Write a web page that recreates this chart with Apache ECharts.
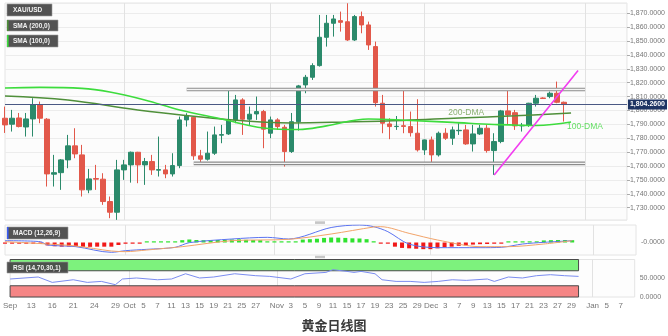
<!DOCTYPE html>
<html><head><meta charset="utf-8">
<script src="https://cdn.jsdelivr.net/npm/echarts@6/dist/echarts.min.js"></script>
<style>html,body{margin:0;padding:0;background:#fff}#c{width:668px;height:336px}</style>
</head><body><div id="c"></div>
<script>
// ---- trading-day categories (weekdays from 2021-09-08) ----
const categories = (function(){const out=[];const d=new Date(Date.UTC(2021,8,8));while(out.length<90){const wd=d.getUTCDay();if(wd!==0&&wd!==6)out.push(d.toISOString().slice(0,10));d.setUTCDate(d.getUTCDate()+1);}return out;})();

// ---- daily candles ----
const opens  = [1794.4,1790.1,1794.6,1788.1,1793.9,1804.0,1793.7,1754.1,1755.2,1764.4,1774.5,1768.0,1742.8,1751.0,1750.5,1734.4,1726.7,1757.2,1760.8,1769.9,1760.8,1763.2,1757.0,1757.2,1754.3,1760.3,1793.2,1795.1,1767.3,1764.9,1769.2,1782.2,1783.1,1793.2,1807.6,1793.7,1797.5,1799.2,1783.6,1793.2,1787.9,1770.4,1791.9,1818.4,1823.9,1832.3,1852.7,1862.8,1864.7,1863.9,1850.8,1867.6,1861.6,1846.0,1805.2,1790.3,1788.4,1789.0,1788.4,1783.6,1771.6,1778.8,1768.0,1783.6,1780.0,1785.4,1786.0,1775.9,1783.1,1787.2,1771.1,1777.6,1799.7,1798.4,1788.9,1789.3,1805.2,1809.0,1810.0,1812.4,1805.9];
const highs  = [1802.8,1800.4,1798.2,1798.2,1808.8,1806.4,1794.5,1768.0,1765.0,1782.4,1787.2,1775.2,1757.9,1760.8,1754.8,1738.0,1764.4,1764.4,1770.4,1770.2,1765.8,1768.0,1781.2,1760.8,1769.2,1795.6,1798.0,1795.6,1771.6,1784.8,1788.4,1789.6,1814.8,1811.2,1808.8,1802.8,1810.0,1800.4,1795.6,1794.4,1789.6,1798.2,1818.4,1825.6,1834.0,1868.8,1868.8,1868.8,1871.2,1877.2,1868.8,1871.2,1864.0,1849.6,1811.2,1794.4,1796.0,1815.0,1799.2,1808.1,1779.0,1781.2,1784.8,1787.2,1788.4,1790.8,1789.6,1789.6,1789.6,1789.6,1783.6,1800.4,1814.8,1800.4,1791.0,1805.5,1811.2,1809.5,1813.6,1820.8,1806.4];
const lows   = [1783.8,1784.8,1787.8,1781.2,1781.2,1790.8,1745.2,1745.2,1742.8,1758.4,1765.6,1738.0,1740.4,1742.8,1732.0,1722.4,1721.2,1750.0,1748.0,1747.6,1746.4,1753.6,1752.4,1751.2,1752.4,1758.4,1788.4,1764.4,1762.0,1763.9,1768.0,1776.4,1782.4,1790.8,1782.4,1789.6,1793.2,1772.8,1780.0,1786.0,1759.6,1769.4,1785.5,1812.4,1822.0,1831.6,1846.0,1853.2,1856.8,1850.1,1850.1,1855.6,1843.6,1802.8,1783.6,1779.3,1786.0,1783.6,1781.2,1770.4,1768.0,1760.8,1766.8,1778.8,1775.2,1782.4,1775.2,1770.4,1782.4,1769.6,1753.6,1776.4,1789.6,1786.0,1784.8,1788.2,1802.8,1808.3,1808.8,1805.2,1792.0];
const closes = [1789.6,1794.4,1788.4,1793.9,1804.0,1794.4,1754.3,1755.2,1764.4,1774.5,1768.7,1742.8,1750.7,1750.5,1734.4,1726.7,1757.2,1760.8,1769.9,1760.8,1763.2,1757.2,1757.4,1754.3,1760.3,1793.2,1796.3,1767.3,1764.9,1769.2,1782.4,1782.6,1793.2,1807.6,1793.7,1797.3,1799.2,1786.5,1793.2,1788.4,1770.4,1791.9,1817.7,1823.9,1832.3,1852.7,1862.8,1865.9,1863.5,1850.8,1867.6,1861.6,1847.2,1805.6,1790.8,1788.4,1788.6,1788.5,1784.0,1771.6,1778.8,1768.0,1783.6,1780.0,1786.0,1785.7,1775.9,1783.1,1787.2,1771.1,1777.6,1799.7,1796.8,1788.9,1789.3,1805.2,1808.8,1808.6,1812.4,1805.9,1804.26];
const lastPrice = 1804.26;

const sma200 = [['2021-09-08',1810.5],['2021-09-21',1807.6],['2021-10-05',1800.4],['2021-10-21',1793.9],['2021-11-04',1791.0],['2021-11-16',1791.7],['2021-11-26',1792.8],['2021-12-08',1794.6],['2021-12-20',1796.1],['2021-12-30',1798.2]];
const sma100 = [['2021-09-08',1816.2],['2021-09-15',1816.6],['2021-09-23',1815.9],['2021-09-29',1813.3],['2021-10-06',1807.6],['2021-10-13',1800.4],['2021-10-21',1793.9],['2021-10-29',1787.4],['2021-11-05',1786.3],['2021-11-11',1788.9],['2021-11-19',1793.9],['2021-11-29',1792.8],['2021-12-07',1791.4],['2021-12-15',1789.9],['2021-12-23',1789.2],['2021-12-30',1791.7]];

// ---- drawn levels / trend line ----
const resistance = {from:'2021-10-14', to:'2022-01-03', level:1815.1};
const support    = {from:'2021-10-15', to:'2022-01-03', level:1761.9};
const trendLine  = [['2021-12-15',1753.6],['2021-12-31',1828.7]];

// ---- MACD (12,26,9) ----
const macdHist = [-0.6,-0.8,-1.0,-1.0,-0.8,-1.0,-3.5,-4.5,-5.0,-4.8,-4.6,-5.2,-5.2,-5.0,-5.0,-5.0,-3.0,-1.5,-0.6,-0.4,0.4,0.5,0.6,0.6,0.8,2.8,3.6,3.0,2.8,2.8,3.0,3.2,3.6,3.8,3.2,3.0,2.8,1.2,0.8,0.6,0.5,0.8,3.5,4.0,4.5,5.5,6.0,5.8,5.5,5.0,4.8,4.0,1.5,-0.8,-1.2,-5.0,-6.5,-7.0,-7.5,-8.0,-8.0,-7.0,-5.5,-5.0,-4.0,-3.5,-2.5,-2.0,-1.8,-1.5,-1.0,0.8,0.8,0.6,0.6,0.8,2.5,2.8,3.0,3.0,2.8];
const macdLine = [['2021-09-08',2.2],['2021-09-15',1.0],['2021-09-16',-3.0],['2021-09-22',-5.0],['2021-09-29',-11.8],['2021-10-01',-9.8],['2021-10-06',-8.2],['2021-10-12',-5.8],['2021-10-14',-0.2],['2021-10-22',4.2],['2021-10-29',6.2],['2021-11-03',4.2],['2021-11-11',18],['2021-11-17',21],['2021-11-19',19],['2021-11-23',13],['2021-11-26',-2],['2021-12-02',-6.2],['2021-12-10',-6.2],['2021-12-15',-5.8],['2021-12-20',-1.8],['2021-12-23',0.2],['2021-12-29',2.2]];
const signalLine = [['2021-09-08',1.0],['2021-09-16',-1.8],['2021-09-22',-4.2],['2021-09-29',-10.2],['2021-10-01',-11],['2021-10-06',-9],['2021-10-13',-5],['2021-10-22',2.2],['2021-11-03',3.8],['2021-11-11',10.2],['2021-11-19',18.6],['2021-11-22',19],['2021-11-26',11],['2021-12-02',3],['2021-12-10',-5],['2021-12-16',-5],['2021-12-23',-1.8],['2021-12-29',2.2]];

// ---- RSI (14) ----
const rsi = [['2021-09-08',48],['2021-09-14',53.3],['2021-09-16',39],['2021-09-21',46],['2021-09-23',39],['2021-09-27',41.6],['2021-09-29',32.8],['2021-09-30',48],['2021-10-04',50.7],['2021-10-07',46],['2021-10-11',48],['2021-10-13',62],['2021-10-15',50.7],['2021-10-19',53.3],['2021-10-22',62],['2021-10-27',56.8],['2021-10-29',55],['2021-11-03',48],['2021-11-05',62],['2021-11-10',65.6],['2021-11-11',72.8],['2021-11-15',68.3],['2021-11-16',65.6],['2021-11-17',68.3],['2021-11-19',62],['2021-11-22',46],['2021-11-24',41.6],['2021-11-26',41.6],['2021-11-30',39],['2021-12-02',41.6],['2021-12-06',46],['2021-12-08',44.3],['2021-12-13',48],['2021-12-14',41.6],['2021-12-16',53.3],['2021-12-20',50.7],['2021-12-22',56.8],['2021-12-24',59.5],['2021-12-28',56.8],['2021-12-30',55]];
const rsiBands = {upper:[70,100], lower:[0,30], end:'2021-12-30'};

// ---- x tick labels ----
const xTicks = [['2021-09-08','Sep'],['2021-09-13','13'],['2021-09-16','16'],['2021-09-21','21'],['2021-09-24','24'],['2021-09-29','29'],['2021-10-01','Oct'],['2021-10-05','5'],['2021-10-07','7'],['2021-10-11','11'],['2021-10-13','13'],['2021-10-15','15'],['2021-10-19','19'],['2021-10-21','21'],['2021-10-25','25'],['2021-10-27','27'],['2021-11-01','Nov'],['2021-11-03','3'],['2021-11-05','5'],['2021-11-09','9'],['2021-11-11','11'],['2021-11-15','15'],['2021-11-17','17'],['2021-11-19','19'],['2021-11-23','23'],['2021-11-25','25'],['2021-11-29','29'],['2021-12-01','Dec'],['2021-12-03','3'],['2021-12-07','7'],['2021-12-09','9'],['2021-12-13','13'],['2021-12-15','15'],['2021-12-17','17'],['2021-12-21','21'],['2021-12-23','23'],['2021-12-27','27'],['2021-12-29','29'],['2022-01-03','Jan'],['2022-01-05','5'],['2022-01-07','7']];
const monthStarts = ['2021-10-01','2021-11-01','2021-12-01','2022-01-03'];

// ---------------------------------------------------------------
const tickMap = {}; xTicks.forEach(t => tickMap[t[0]] = t[1]);
const fmt4 = v => Number(v).toLocaleString('en-US',{minimumFractionDigits:4,maximumFractionDigits:4});
const FONT = '"Liberation Sans", Arial, sans-serif';
const monthIdx = monthStarts.map(d => categories.indexOf(d));
const C_UP = '#2b8a6b', C_DN = '#e2584a';

function xAxisFor(g, labels){
  return {type:'category', gridIndex:g, data:categories, boundaryGap:false,
    axisLine:{show:false}, axisTick:{show:false},
    axisLabel: labels ? {show:true, interval:(i,v)=>tickMap[v]!==undefined, formatter:v=>tickMap[v]||'', color:'#777', fontSize:8, fontFamily:FONT, margin:5} : {show:false},
    splitLine:{show:true, interval:(i)=>monthIdx.indexOf(i)>=0, lineStyle:{color:'#e2e2e2', width:1}}};
}
function tag(x,y,w,h,text,accent){
  const ch = [{type:'rect', z:100, shape:{x:x,y:y,width:w,height:h}, style:{fill:'rgba(72,72,72,0.94)', stroke:'#9a9a9a', lineWidth:0.6}, silent:true}];
  if(accent) ch.push({type:'rect', z:101, shape:{x:x,y:y,width:1.6,height:h}, style:{fill:accent}, silent:true});
  ch.push({type:'text', z:102, x:x+6, y:y+h/2+0.5, style:{text:text, fill:'#f2f2f2', font:'bold 6.5px '+FONT, verticalAlign:'middle', align:'left'}, silent:true});
  return ch;
}

const chart = echarts.init(document.getElementById('c'), null, {renderer:'canvas'});
chart.setOption({
  animation:false,
  backgroundColor:'#ffffff',
  title:{text:'黄金日线图', left:'center', top:314, textStyle:{fontSize:13, fontWeight:'bold', color:'#3a3a3a', fontFamily:'"Noto Sans CJK SC", sans-serif'}},
  grid:[
    {left:5, right:32, top:3, height:217, show:true, backgroundColor:'#fcfcfc', borderColor:'#e4e4e4', borderWidth:1},
    {left:5, right:32, top:225, height:30, show:true, backgroundColor:'#fdfdfd', borderColor:'#e4e4e4', borderWidth:1},
    {left:5, right:32, top:259.5, height:37.5, show:true, backgroundColor:'#fdfdfd', borderColor:'#e4e4e4', borderWidth:1}
  ],
  xAxis:[xAxisFor(0,false), xAxisFor(1,false), xAxisFor(2,true)],
  yAxis:[
    {type:'value', gridIndex:0, position:'right', min:1721.1, max:1877.4, splitNumber:16,
      axisLine:{show:false}, axisTick:{show:true, length:3, lineStyle:{color:'#aaa'}},
      axisLabel:{showMinLabel:false, showMaxLabel:false, formatter:fmt4, color:'#777', fontSize:7, fontFamily:FONT, margin:3},
      splitLine:{lineStyle:{color:'#ececec'}}},
    {type:'value', gridIndex:1, position:'right', min:-15, max:21, interval:15,
      axisLine:{show:false}, axisTick:{show:false},
      axisLabel:{formatter:v=>v===0?'-0.0000':'', color:'#777', fontSize:7, fontFamily:FONT, margin:5},
      splitLine:{show:false}},
    {type:'value', gridIndex:2, position:'right', min:0, max:100, interval:50,
      axisLine:{show:false}, axisTick:{show:false},
      axisLabel:{formatter:v=>v===100?'':fmt4(v), color:'#777', fontSize:7, fontFamily:FONT, margin:5},
      splitLine:{show:false}}
  ],
  graphic:{elements:[].concat(
    tag(7,4,45,12,'XAU/USD',null),
    tag(7,20,51,11,'SMA (200,0)','#4f8f3a'),
    tag(7,35,51,12,'SMA (100,0)','#3ddc3d'),
    tag(7,227,61,12,'MACD (12,26,9)','#3b5cf0'),
    tag(7,262,61,11,'RSI (14,70,30,1)',null),
    [{type:'rect', z:100, shape:{x:315, y:221.3, width:10, height:2.6}, style:{fill:'#c6c6c6'}, silent:true},
     {type:'rect', z:100, shape:{x:315, y:255.8, width:10, height:2.4}, style:{fill:'#c6c6c6'}, silent:true}]
  )},
  series:[
    {type:'candlestick', name:'XAU/USD', xAxisIndex:0, yAxisIndex:0, barWidth:5, z:3,
      data:opens.map((o,i)=>[o, closes[i], lows[i], highs[i]]),
      itemStyle:{color:C_UP, color0:C_DN, borderColor:C_UP, borderColor0:C_DN, borderWidth:1},
      markLine:{symbol:'none', silent:true, animation:false,
        data:[{yAxis:lastPrice}],
        lineStyle:{color:'#4a5884', width:1, type:'solid'},
        label:{show:true, position:'end', distance:1, formatter:()=>fmt4(lastPrice), color:'#fff', backgroundColor:'#1e3464', padding:[2,2,1,2], fontSize:7, fontWeight:'bold', fontFamily:FONT}}},
    {type:'line', name:'SMA 200', xAxisIndex:0, yAxisIndex:0, data:sma200, smooth:0.4, symbol:'none', z:4,
      lineStyle:{color:'#4f8f3a', width:1.5}},
    {type:'line', name:'SMA 100', xAxisIndex:0, yAxisIndex:0, data:sma100, smooth:0.4, symbol:'none', z:4,
      lineStyle:{color:'#3ddc3d', width:1.6}},
    {type:'line', xAxisIndex:0, yAxisIndex:0, symbol:'none', z:5, data:[[resistance.from,resistance.level],[resistance.to,resistance.level]], lineStyle:{color:'#8c8c8c', width:3.6}},
    {type:'line', xAxisIndex:0, yAxisIndex:0, symbol:'none', z:6, data:[[resistance.from,resistance.level],[resistance.to,resistance.level]], lineStyle:{color:'#f4f4f4', width:1.4}},
    {type:'line', xAxisIndex:0, yAxisIndex:0, symbol:'none', z:5, data:[[support.from,support.level],[support.to,support.level]], lineStyle:{color:'#8c8c8c', width:3.6}},
    {type:'line', xAxisIndex:0, yAxisIndex:0, symbol:'none', z:6, data:[[support.from,support.level],[support.to,support.level]], lineStyle:{color:'#f4f4f4', width:1.4}},
    {type:'line', xAxisIndex:0, yAxisIndex:0, symbol:'none', z:7, data:trendLine, lineStyle:{color:'#f23cf0', width:1.6}},
    {type:'scatter', xAxisIndex:0, yAxisIndex:0, symbolSize:0, z:8, data:[['2021-12-09',1798.2]],
      label:{show:true, position:'inside', formatter:'200-DMA', color:'#6f9e50', fontSize:8.5, fontFamily:FONT}},
    {type:'scatter', xAxisIndex:0, yAxisIndex:0, symbolSize:0, z:8, data:[['2022-01-03',1788.2]],
      label:{show:true, position:'inside', formatter:'100-DMA', color:'#3fd83f', fontSize:8.5, fontFamily:FONT}},
    {type:'bar', name:'MACD hist', xAxisIndex:1, yAxisIndex:1, data:macdHist, barWidth:4, barMinHeight:1.2,
      itemStyle:{color:p=>p.value>=0?'#2fe22f':'#f01818'}},
    {type:'line', name:'MACD', xAxisIndex:1, yAxisIndex:1, data:macdLine, smooth:0.3, symbol:'none', lineStyle:{color:'#5b73f0', width:1}},
    {type:'line', name:'Signal', xAxisIndex:1, yAxisIndex:1, data:signalLine, smooth:0.3, symbol:'none', lineStyle:{color:'#f2a46a', width:1}},
    {type:'line', name:'RSI', xAxisIndex:2, yAxisIndex:2, data:rsi, symbol:'none', z:5, lineStyle:{color:'#7b8cf0', width:1},
      markArea:{silent:true, data:[
        [{xAxis:categories[0], yAxis:rsiBands.upper[0], itemStyle:{color:'#7df27d', borderColor:'#4a4a4a', borderWidth:1}},{xAxis:rsiBands.end, yAxis:rsiBands.upper[1]}],
        [{xAxis:categories[0], yAxis:rsiBands.lower[0], itemStyle:{color:'#f58585', borderColor:'#4a4a4a', borderWidth:1}},{xAxis:rsiBands.end, yAxis:rsiBands.lower[1]}]
      ]}}
  ]
});
</script></body></html>
